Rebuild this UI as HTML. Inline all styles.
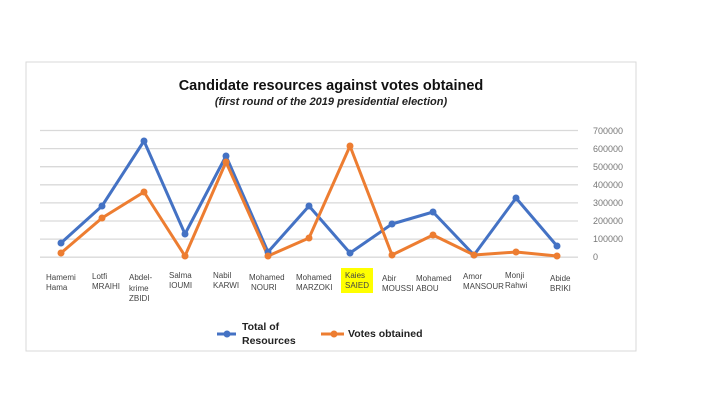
<!DOCTYPE html>
<html><head><meta charset="utf-8"><style>
body{margin:0;background:#fff;width:720px;height:405px;overflow:hidden;font-family:"Liberation Sans",sans-serif}
</style></head><body>
<svg width="720" height="405" xmlns="http://www.w3.org/2000/svg" font-family="Liberation Sans, sans-serif">
<rect x="26" y="62" width="610" height="289" fill="#fff" stroke="#d9d9d9" stroke-width="1"/>
<text x="331" y="90" text-anchor="middle" font-size="14.5" font-weight="bold" fill="#111">Candidate resources against votes obtained</text>
<text x="331" y="105" text-anchor="middle" font-size="11" font-weight="bold" font-style="italic" fill="#222">(first round of the 2019 presidential election)</text>
<g stroke="#d9d9d9" stroke-width="1.3">
<line x1="40" x2="578" y1="130.5" y2="130.5"/><line x1="40" x2="578" y1="148.6" y2="148.6"/>
<line x1="40" x2="578" y1="166.7" y2="166.7"/><line x1="40" x2="578" y1="184.8" y2="184.8"/>
<line x1="40" x2="578" y1="202.9" y2="202.9"/><line x1="40" x2="578" y1="221" y2="221"/>
<line x1="40" x2="578" y1="239.1" y2="239.1"/><line x1="40" x2="578" y1="257.2" y2="257.2"/>
</g>
<g font-size="9" fill="#777" text-anchor="start">
<text x="593" y="134">700000</text><text x="593" y="152">600000</text><text x="593" y="170">500000</text>
<text x="593" y="188">400000</text><text x="593" y="206">300000</text><text x="593" y="224">200000</text>
<text x="593" y="242">100000</text><text x="593" y="260">0</text>
</g>
<polyline fill="none" stroke="#4472c4" stroke-width="3" stroke-linejoin="round" points="61,243 102,206 144,141 185,234 226,156 268,252 309,206 350,253 392,224 433,212 474,255 516,198 557,246"/>
<polyline fill="none" stroke="#ed7d31" stroke-width="3" stroke-linejoin="round" points="61,253 102,218 144,192 185,256 226,162 268,256 309,238 350,146 392,255 433,235 474,255 516,252 557,256"/>
<g fill="#4472c4">
<circle cx="61" cy="243" r="3.5"/><circle cx="102" cy="206" r="3.5"/><circle cx="144" cy="141" r="3.5"/><circle cx="185" cy="234" r="3.5"/><circle cx="226" cy="156" r="3.5"/><circle cx="268" cy="252" r="3.5"/><circle cx="309" cy="206" r="3.5"/><circle cx="350" cy="253" r="3.5"/><circle cx="392" cy="224" r="3.5"/><circle cx="433" cy="212" r="3.5"/><circle cx="474" cy="255" r="3.5"/><circle cx="516" cy="198" r="3.5"/><circle cx="557" cy="246" r="3.5"/>
</g>
<g fill="#ed7d31">
<circle cx="61" cy="253" r="3.5"/><circle cx="102" cy="218" r="3.5"/><circle cx="144" cy="192" r="3.5"/><circle cx="185" cy="256" r="3.5"/><circle cx="226" cy="162" r="3.5"/><circle cx="268" cy="256" r="3.5"/><circle cx="309" cy="238" r="3.5"/><circle cx="350" cy="146" r="3.5"/><circle cx="392" cy="255" r="3.5"/><circle cx="433" cy="235" r="3.5"/><circle cx="474" cy="255" r="3.5"/><circle cx="516" cy="252" r="3.5"/><circle cx="557" cy="256" r="3.5"/>
</g>
<rect x="341" y="268" width="32" height="25" fill="#ffff00"/>
<g font-size="8" fill="#444">
<text x="46" y="280">Hamemi</text><text x="46" y="290">Hama</text>
<text x="92" y="279">Lotfi</text><text x="92" y="289">MRAIHI</text>
<text x="129" y="280">Abdel-</text><text x="129" y="291">krime</text><text x="129" y="301">ZBIDI</text>
<text x="169" y="278">Salma</text><text x="169" y="288">IOUMI</text>
<text x="213" y="278">Nabil</text><text x="213" y="288">KARWI</text>
<text x="249" y="280">Mohamed</text><text x="251" y="290">NOURI</text>
<text x="296" y="280">Mohamed</text><text x="296" y="290">MARZOKI</text>
<text x="345" y="278">Kaies</text><text x="345" y="288">SAIED</text>
<text x="382" y="281">Abir</text><text x="382" y="291">MOUSSI</text>
<text x="416" y="281">Mohamed</text><text x="416" y="291">ABOU</text>
<text x="463" y="279">Amor</text><text x="463" y="289">MANSOUR</text>
<text x="505" y="278">Monji</text><text x="505" y="288">Rahwi</text>
<text x="550" y="281">Abide</text><text x="550" y="291">BRIKI</text>
</g>
<line x1="217" x2="236" y1="334" y2="334" stroke="#4472c4" stroke-width="3"/><circle cx="227" cy="334" r="3.5" fill="#4472c4"/>
<text x="242" y="330" font-size="10.5" font-weight="bold" fill="#222">Total of</text>
<text x="242" y="344" font-size="10.5" font-weight="bold" fill="#222">Resources</text>
<line x1="321" x2="344" y1="334" y2="334" stroke="#ed7d31" stroke-width="3"/><circle cx="334" cy="334" r="3.5" fill="#ed7d31"/>
<text x="348" y="337" font-size="10.5" font-weight="bold" fill="#222">Votes obtained</text>
</svg>
</body></html>
